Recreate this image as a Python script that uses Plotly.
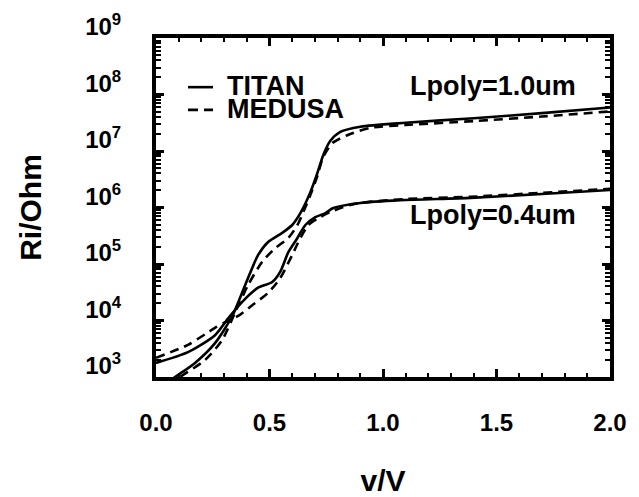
import plotly.graph_objects as go

# ---- data ----
v_titan_10 = [0.0, 0.084, 0.172, 0.26, 0.336, 0.393, 0.45, 0.494, 0.556, 0.6, 0.636,
              0.68, 0.711, 0.737, 0.768, 0.812, 0.90, 1.1, 1.4, 1.7, 2.0]
r_titan_10 = [562, 1000, 1778, 3981, 12023, 42658, 144544, 245471, 354813, 489779, 794328,
              1.862e6, 4.074e6, 8.511e6, 1.514e7, 2.188e7, 2.692e7, 3.162e7, 3.802e7, 4.677e7, 5.888e7]

v_medusa_10 = [0.0, 0.106, 0.216, 0.291, 0.349, 0.406, 0.468, 0.525, 0.583, 0.623, 0.649,
               0.68, 0.711, 0.737, 0.777, 0.843, 0.945, 1.1, 1.4, 1.7, 2.0]
r_medusa_10 = [501, 1000, 1995, 4467, 14125, 42658, 109648, 190546, 288403, 489779, 831764,
               1.660e6, 3.631e6, 7.943e6, 1.380e7, 1.905e7, 2.570e7, 2.884e7, 3.388e7, 4.074e7, 5.012e7]

v_titan_04 = [0.0, 0.141, 0.26, 0.318, 0.38, 0.45, 0.512, 0.547, 0.583, 0.623, 0.658,
              0.702, 0.746, 0.781, 0.90, 1.077, 1.386, 1.7, 2.0]
r_titan_04 = [1778, 2754, 5495, 10965, 21380, 38019, 47863, 72444, 162181, 288403, 489779,
              676083, 794328, 977237, 1.202e6, 1.349e6, 1.479e6, 1.738e6, 2.042e6]

v_medusa_04 = [0.0, 0.141, 0.26, 0.31, 0.362, 0.424, 0.494, 0.547, 0.600, 0.636, 0.671,
               0.715, 0.768, 0.870, 1.1, 1.386, 1.7, 2.0]
r_medusa_04 = [2188, 3715, 7413, 9550, 12023, 18621, 30903, 56234, 144544, 288403, 489779,
               645654, 831764, 1.148e6, 1.413e6, 1.549e6, 1.820e6, 2.138e6]

x_ticks = [0.0, 0.5, 1.0, 1.5, 2.0]
x_ticktext = ["0.0", "0.5", "1.0", "1.5", "2.0"]
y_ticks = [1e3, 1e4, 1e5, 1e6, 1e7, 1e8, 1e9]
y_ticktext = ["10<sup>3</sup>", "10<sup>4</sup>", "10<sup>5</sup>", "10<sup>6</sup>",
              "10<sup>7</sup>", "10<sup>8</sup>", "10<sup>9</sup>"]
legend_names = ["TITAN", "MEDUSA"]
curve_labels = ["Lpoly=1.0um", "Lpoly=0.4um"]

FONT = "Liberation Sans, Arial, Helvetica, sans-serif"
LW = 2.6
DASH = "9px,6px"

fig = go.Figure()
for vx, ry, dash, name in [
    (v_titan_10, r_titan_10, "solid", "TITAN 1.0"),
    (v_medusa_10, r_medusa_10, DASH, "MEDUSA 1.0"),
    (v_titan_04, r_titan_04, "solid", "TITAN 0.4"),
    (v_medusa_04, r_medusa_04, DASH, "MEDUSA 0.4"),
]:
    fig.add_trace(go.Scatter(x=vx, y=ry, mode="lines", name=name,
                             line=dict(color="black", width=LW, dash=dash,
                                       shape="spline", smoothing=0.7),
                             showlegend=False, hoverinfo="skip"))

tickfont = dict(family=FONT, size=24, color="black", weight="bold")

fig.update_xaxes(range=[0, 2], tickvals=x_ticks, ticktext=x_ticktext, automargin=False,
                 ticks="inside", ticklen=8, tickwidth=2.5, tickcolor="black",
                 minor=dict(ticks="inside", ticklen=4, tickwidth=2, dtick=0.1, tickcolor="black"),
                 showline=True, linewidth=4, linecolor="black", mirror="ticks",
                 showgrid=False, zeroline=False, tickfont=tickfont,
                 ticklabelstandoff=21,
                 title=dict(text="v/V", font=dict(family=FONT, size=30, color="black", weight="bold"),
                            standoff=44))
fig.update_yaxes(type="log", range=[3, 9], tickvals=y_ticks, ticktext=y_ticktext, automargin=False,
                 ticks="inside", ticklen=8, tickwidth=2.5, tickcolor="black",
                 minor=dict(ticks="inside", ticklen=5, tickwidth=2, dtick="D1", tickcolor="black"),
                 showline=True, linewidth=4, linecolor="black", mirror="ticks",
                 showgrid=False, zeroline=False, tickfont=tickfont,
                 ticklabelstandoff=26, ticklabelshift=-11,
                 title=dict(text="Ri/Ohm", font=dict(family=FONT, size=30, color="black", weight="bold"),
                            standoff=36))

annfont = dict(family=FONT, size=27, color="black", weight="bold")
fig.add_annotation(x=1.108, y=8.15, xref="x", yref="y", text=curve_labels[0],
                   showarrow=False, xanchor="left", yanchor="middle", font=annfont)
fig.add_annotation(x=1.108, y=5.86, xref="x", yref="y", text=curve_labels[1],
                   showarrow=False, xanchor="left", yanchor="middle", font=annfont)

# manual legend (keys + text) inside plot
fig.add_shape(type="line", xref="paper", yref="paper", x0=0.0705, x1=0.1256, y0=0.855, y1=0.855,
              line=dict(color="black", width=LW))
fig.add_shape(type="line", xref="paper", yref="paper", x0=0.0705, x1=0.1256, y0=0.788, y1=0.788,
              line=dict(color="black", width=LW, dash="10px,6px"))
fig.add_annotation(x=0.152, y=0.858, xref="paper", yref="paper", text=legend_names[0],
                   showarrow=False, xanchor="left", yanchor="middle", font=annfont)
fig.add_annotation(x=0.152, y=0.791, xref="paper", yref="paper", text=legend_names[1],
                   showarrow=False, xanchor="left", yanchor="middle", font=annfont)

fig.update_layout(width=639, height=497,
                  margin=dict(l=156, r=29, t=38, b=120, autoexpand=False),
                  paper_bgcolor="white", plot_bgcolor="white", showlegend=False,
                  font=dict(family=FONT, color="black"))
fig.write_html("out.html")
